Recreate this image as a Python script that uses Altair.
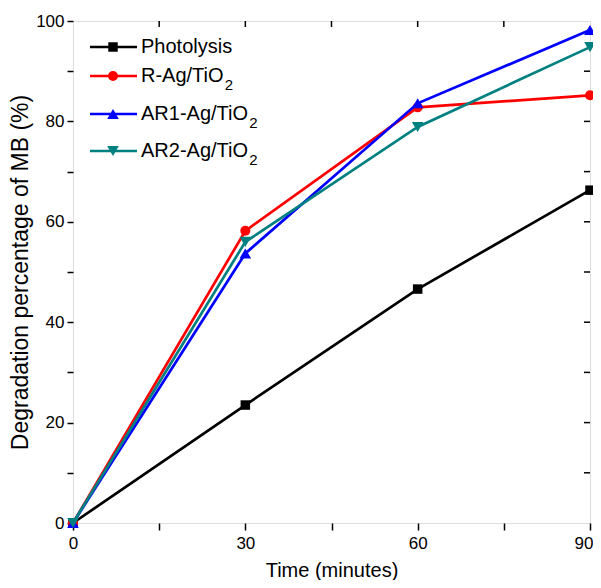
import altair as alt
import pandas as pd

# ---- data ----
time_min = [0, 30, 60, 90]
photolysis = [0.0, 23.5, 46.6, 66.3]
r_ag_tio2 = [0.0, 58.2, 82.8, 85.2]
ar1_ag_tio2 = [0.0, 53.7, 83.6, 98.2]
ar2_ag_tio2 = [0.0, 56.0, 78.9, 94.8]

series_main = ["Photolysis", "R-Ag/TiO", "AR1-Ag/TiO", "AR2-Ag/TiO"]
series_sub = ["", "2", "2", "2"]
series_values = [photolysis, r_ag_tio2, ar1_ag_tio2, ar2_ag_tio2]
series_colors = ["#000000", "#ff0000", "#0000ff", "#008080"]
series_shapes = ["square", "circle", "triangle-up", "triangle-down"]
series_sizes = [90, 100, 135, 135]

x_tick_values = [0, 15, 30, 45, 60, 75, 90]
y_tick_values = [0, 10, 20, 30, 40, 50, 60, 70, 80, 90, 100]

W, H = 517, 502
FONT = "Liberation Sans"

# Arial / Liberation Sans advance widths (per 1000 em) for legend layout
ADV = {"P": 667, "h": 556, "o": 556, "t": 278, "l": 222, "y": 500, "s": 500,
       "i": 222, "R": 722, "-": 333, "A": 667, "g": 556, "/": 278, "T": 611,
       "O": 778, "1": 556, "2": 556}


def text_width(s, size):
    return sum(ADV.get(c, 556) for c in s) * size / 1000.0


xscale = alt.Scale(domain=[0, 90], nice=False, zero=False)
yscale = alt.Scale(domain=[0, 100], nice=False, zero=False)

x_axis = alt.Axis(values=x_tick_values, labelExpr="datum.value % 30 == 0 ? datum.label : ''",
                  title="Time (minutes)", tickSize=7, labelPadding=5, titlePadding=9,
                  labelFontSize=17, titleFontSize=20, grid=False, domain=False,
                  labelAlign=alt.condition("datum.value == 90", alt.value("right"), alt.value("center")),
                  labelOffset=alt.condition("datum.value == 90", alt.value(3), alt.value(0)),
                  tickColor="black", labelColor="black", titleColor="black", tickWidth=1.5,
                  titleFontWeight="normal")
y_axis = alt.Axis(values=y_tick_values, labelExpr="datum.value % 20 == 0 ? datum.label : ''",
                  title="Degradation percentage of MB (%)", tickSize=6, labelPadding=3,
                  titlePadding=3, labelFontSize=17, titleFontSize=23, grid=False, domain=False,
                  tickColor="black", labelColor="black", titleColor="black", tickWidth=1.5,
                  titleFontWeight="normal")

layers = []

# frame ticks pointing inwards on top and right
top_ticks = pd.DataFrame({"t": x_tick_values[1:-1]})
right_ticks = pd.DataFrame({"v": y_tick_values[1:-1]})
layers.append(
    alt.Chart(top_ticks).mark_rule(color="black", strokeWidth=1.5).encode(
        x=alt.X("t:Q", scale=xscale, axis=x_axis), y=alt.value(0), y2=alt.value(6))
)
layers.append(
    alt.Chart(right_ticks).mark_rule(color="black", strokeWidth=1.5).encode(
        y=alt.Y("v:Q", scale=yscale, axis=y_axis), x=alt.value(W), x2=alt.value(W - 6))
)

for name, vals, col, shp, sz in zip(series_main, series_values, series_colors,
                                    series_shapes, series_sizes):
    df = pd.DataFrame({"time": time_min, "value": vals})
    base = alt.Chart(df).encode(
        x=alt.X("time:Q", scale=xscale, axis=x_axis),
        y=alt.Y("value:Q", scale=yscale, axis=y_axis),
    )
    layers.append(base.mark_line(color=col, strokeWidth=2.7, clip=False))
    layers.append(base.mark_point(shape=shp, filled=True, color=col, size=sz,
                                  opacity=1, clip=False))

# custom legend
legend_rows_y = [26, 55, 93, 130]
LX0, LX1, LXM, LXT = 17, 64, 40, 68
LEG_FS, SUB_FS = 20, 15
for name, sub, col, shp, sz, ry in zip(series_main, series_sub, series_colors,
                                       series_shapes, series_sizes, legend_rows_y):
    one = pd.DataFrame({"label": [name], "sub": [sub]})
    lc = alt.Chart(one)
    layers.append(lc.mark_rule(color=col, strokeWidth=2.7).encode(
        x=alt.value(LX0), x2=alt.value(LX1), y=alt.value(ry)))
    layers.append(lc.mark_point(shape=shp, filled=True, color=col, size=sz, opacity=1).encode(
        x=alt.value(LXM), y=alt.value(ry)))
    layers.append(lc.mark_text(align="left", baseline="middle", font=FONT,
                               fontSize=LEG_FS, color="black").encode(
        text="label:N", x=alt.value(LXT), y=alt.value(ry)))
    if sub:
        layers.append(lc.mark_text(align="left", baseline="middle", font=FONT,
                                   fontSize=SUB_FS, color="black").encode(
            text="sub:N", x=alt.value(LXT + text_width(name, LEG_FS) + 0.5),
            y=alt.value(ry + 9)))

chart = alt.layer(*layers).properties(
    width=W, height=H,
    autosize=alt.AutoSizeParams(type="none"),
    padding={"left": 65, "top": 13, "right": 3, "bottom": 57},
).configure_view(
    stroke="black", strokeWidth=1.5
).configure(
    font=FONT, background="white"
)

chart.save("out.html", embed_options={"renderer": "svg", "actions": False})
